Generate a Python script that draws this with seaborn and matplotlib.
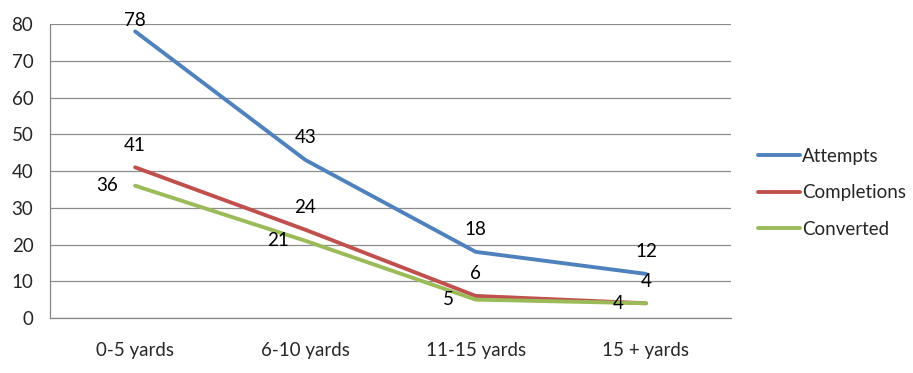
import matplotlib
matplotlib.use("Agg")
import matplotlib.pyplot as plt
import seaborn as sns
import pandas as pd

# Chart data
categories = ["0-5 yards", "6-10 yards", "11-15 yards", "15 + yards"]
attempts = [78, 43, 18, 12]
completions = [41, 24, 6, 4]
converted = [36, 21, 5, 4]

series_names = ["Attempts", "Completions", "Converted"]
colors = ["#4F81BD", "#C0504D", "#9BBB59"]

df = pd.DataFrame({
    "cat": categories * 3,
    "x": list(range(len(categories))) * 3,
    "value": attempts + completions + converted,
    "series": [s for s in series_names for _ in categories],
})

sns.set_style("white")
plt.rcParams["font.family"] = ["Lato", "DejaVu Sans"]
FS = 13.5

fig = plt.figure(figsize=(9.13, 3.73), dpi=100)
ax = fig.add_axes([0.0548, 0.1475, 0.746, 0.788])

sns.lineplot(data=df, x="x", y="value", hue="series", palette=colors,
             linewidth=2.8, ax=ax, legend=False)

# data labels: first two series above the point, last one to the left
for name, vals in zip(series_names, [attempts, completions, converted]):
    for i, v in enumerate(vals):
        if name == "Converted":
            ax.annotate(str(v), (i, v), xytext=(-20, 0), textcoords="offset points",
                        ha="center", va="center", fontsize=FS, color="black")
        else:
            # labels near the top get squeezed down like Excel does
            dy = 8 if v > 74 else 16
            ax.annotate(str(v), (i, v), xytext=(0, dy), textcoords="offset points",
                        ha="center", va="center", fontsize=FS, color="black")

ax.set_xlim(-0.5, len(categories) - 0.5)
ax.set_ylim(0, 80)
ax.set_yticks(range(0, 81, 10))
ax.set_xticks(range(len(categories)))
ax.set_xticklabels(categories)
ax.set_xticks([i - 0.5 for i in range(len(categories) + 1)], minor=True)
ax.tick_params(axis="x", which="major", length=0, pad=17, labelsize=FS)
ax.tick_params(axis="x", which="minor", length=5, color="#868686", direction="out")
ax.tick_params(axis="y", length=4, color="#868686", direction="out", labelsize=FS, pad=8)
ax.set_xlabel("")
ax.set_ylabel("")

ax.grid(axis="y", color="#8c8c8c", linewidth=0.9)
ax.set_axisbelow(True)
for side in ["top", "right"]:
    ax.spines[side].set_visible(False)
for side in ["left", "bottom"]:
    ax.spines[side].set_color("#868686")
    ax.spines[side].set_linewidth(0.9)

# legend on the right
handles = [plt.Line2D([0], [0], color=c, linewidth=2.8) for c in colors]
fig.legend(handles, series_names, loc="center left", bbox_to_anchor=(0.830, 0.483),
           frameon=False, fontsize=FS, handlelength=2.25, handletextpad=0.1,
           labelspacing=1.05, borderpad=0, borderaxespad=0)

fig.savefig("out.png", dpi=100)
